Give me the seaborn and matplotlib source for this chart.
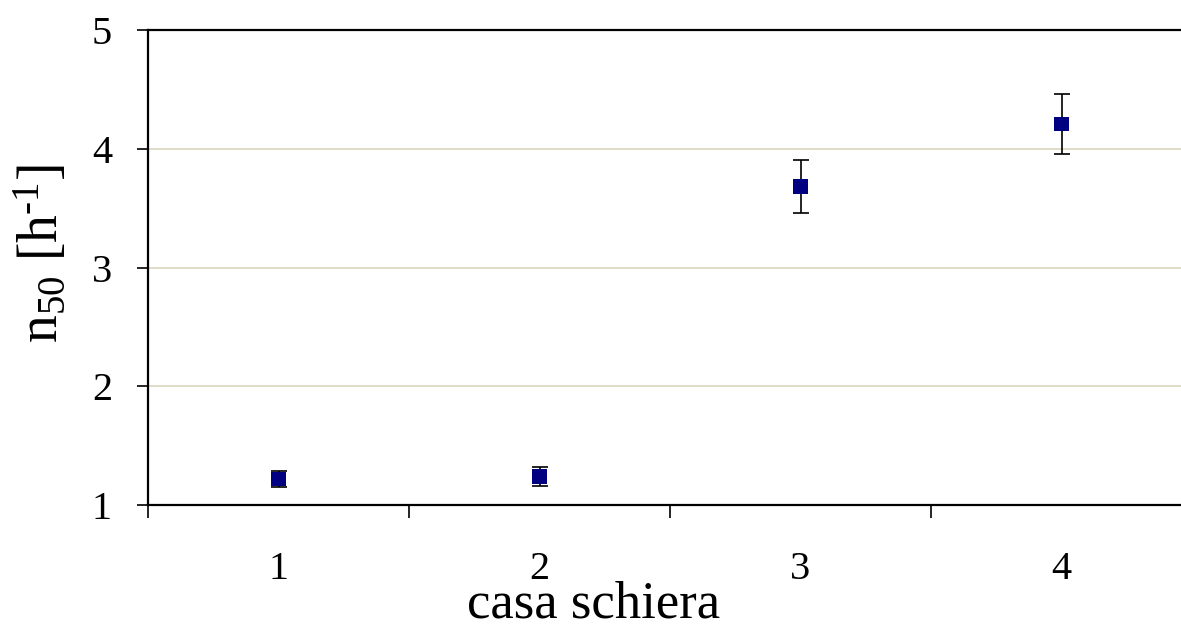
import matplotlib
matplotlib.use("Agg")
import matplotlib.pyplot as plt
import seaborn as sns
import numpy as np
import pandas as pd

# Air change rate at 50 Pa for each terraced house
houses = ["1", "2", "3", "4"]
n50 = [1.22, 1.24, 3.68, 4.21]
n50_err = [0.07, 0.08, 0.225, 0.25]

sns.set_style("white")
plt.rcParams["font.family"] = ["Liberation Serif", "DejaVu Serif"]
plt.rcParams["mathtext.fontset"] = "custom"
plt.rcParams["mathtext.rm"] = "Liberation Serif"
plt.rcParams["mathtext.it"] = "Liberation Serif:italic"
plt.rcParams["text.color"] = "black"
plt.rcParams["axes.labelcolor"] = "black"
plt.rcParams["xtick.color"] = "black"
plt.rcParams["ytick.color"] = "black"

W, H = 1181, 625
fig = plt.figure(figsize=(W / 100, H / 100), dpi=100)
left, right, top, bottom = 148, 1192, 30, 505
ax = fig.add_axes([left / W, 1 - bottom / H, (right - left) / W, (bottom - top) / H])

df = pd.DataFrame({"casa": houses, "n50": n50})
sns.scatterplot(data=df, x="casa", y="n50", marker="s", s=110, color="#000080",
                edgecolor="none", ax=ax, zorder=3)
ax.errorbar(np.arange(len(houses)), n50, yerr=n50_err, fmt="none", ecolor="black",
            elinewidth=1.2, capsize=5.5, capthick=1.2, zorder=2)

ax.set_xlim(-0.5, len(houses) - 0.5)
ax.set_ylim(1, 5)
ax.set_yticks([1, 2, 3, 4, 5])

# horizontal gridlines
ax.yaxis.grid(True, color="#DDD9C3", linewidth=1.3)
ax.xaxis.grid(False)
ax.set_axisbelow(True)

for s in ["left", "bottom", "top", "right"]:
    ax.spines[s].set_visible(True)
    ax.spines[s].set_color("black")
    ax.spines[s].set_linewidth(1.6)

# category labels centred, ticks on the boundaries
ax.set_xticks(np.arange(len(houses)))
ax.set_xticklabels(houses)
ax.set_xticks(np.arange(len(houses) + 1) - 0.5, minor=True)
ax.tick_params(axis="x", which="major", length=0, pad=33, labelsize=29)
ax.tick_params(axis="x", which="minor", direction="out", length=9, width=1.2,
               color="black", bottom=True)
ax.tick_params(axis="y", direction="out", length=8, width=1.2, color="black",
               pad=18, labelsize=29, left=True)

ax.set_xlabel("casa schiera", fontsize=38)
ax.xaxis.set_label_coords((594 - left) / (right - left), -(604 - bottom) / (bottom - top),
                          transform=ax.transAxes)
ax.xaxis.label.set_va("center")
ax.set_ylabel(r"n$_{50}$ [h$^{\text{-1}}$]", fontsize=40)
ax.yaxis.set_label_coords(-(148 - 42) / (right - left), (bottom - 254) / (bottom - top),
                          transform=ax.transAxes)
ax.yaxis.label.set_va("center")

fig.savefig("out.png", dpi=100)
